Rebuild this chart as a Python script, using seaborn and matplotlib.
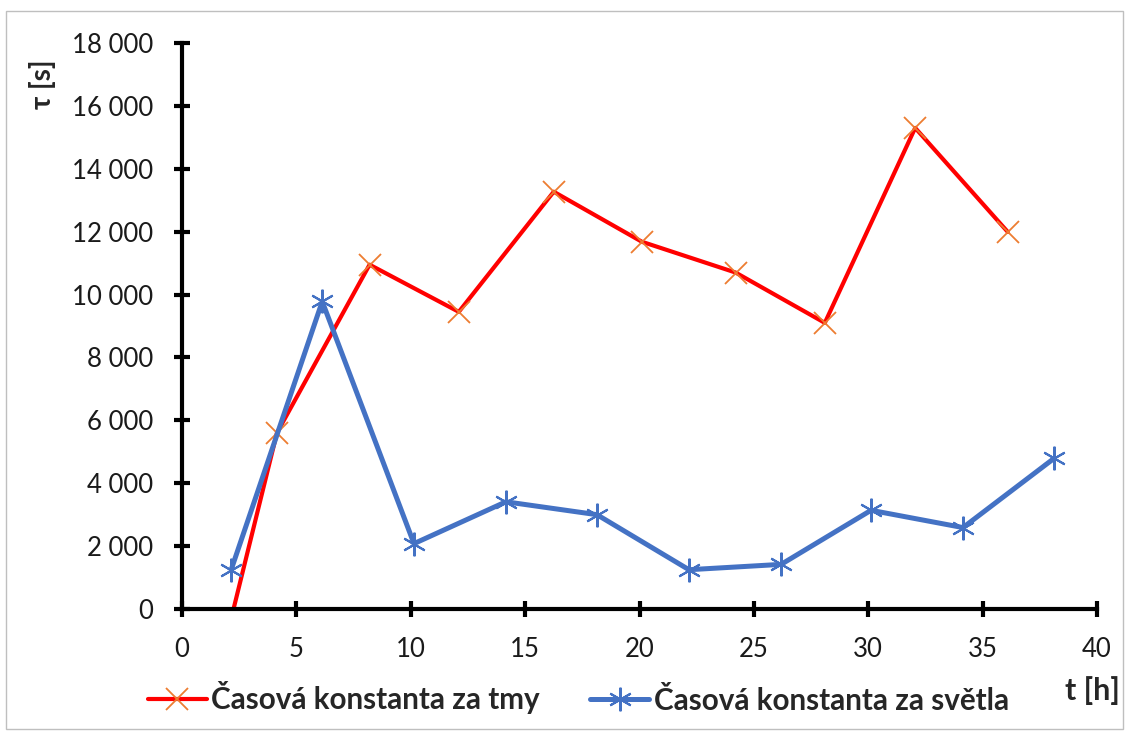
import pandas as pd
import matplotlib.pyplot as plt
import matplotlib.ticker as mticker
from matplotlib.patches import Rectangle
import seaborn as sns

# Data
t_dark = [2.1, 4.15, 8.2, 12.1, 16.25, 20.1, 24.2, 28.1, 32.05, 36.1]
tau_dark = [-450, 5600, 10950, 9450, 13270, 11680, 10700, 9100, 15300, 11990]

t_light = [2.15, 6.13, 10.14, 14.16, 18.14, 22.16, 26.19, 30.12, 34.14, 38.12]
tau_light = [1250, 9780, 2080, 3410, 3000, 1250, 1420, 3140, 2590, 4790]

label_dark = 'Časová konstanta za tmy'
label_light = 'Časová konstanta za světla'

df_dark = pd.DataFrame({'t': t_dark, 'tau': tau_dark})
df_light = pd.DataFrame({'t': t_light, 'tau': tau_light})

sns.set_style('white')
plt.rcParams['font.family'] = ['Lato', 'DejaVu Sans']

fig = plt.figure(figsize=(11.29, 7.35), dpi=100)
ax = fig.add_axes([0.1612, 0.1714, 0.8105, 0.7701])

sns.lineplot(data=df_dark, x='t', y='tau', ax=ax, color='#FF0000', linewidth=3,
             marker='x', markersize=16, markeredgewidth=1.3,
             markeredgecolor='#ED7D31', label=label_dark, sort=False)
sns.lineplot(data=df_light, x='t', y='tau', ax=ax, color='#4472C4', linewidth=3.6,
             marker=(6, 2, 0), markersize=17, markeredgewidth=1.5,
             markeredgecolor='#4472C4', label=label_light, sort=False)

ax.set_xlim(0, 40)
ax.set_ylim(0, 18000)
ax.set_xticks(range(0, 41, 5))
ax.set_yticks(range(0, 18001, 2000))
ax.yaxis.set_major_formatter(mticker.FuncFormatter(lambda v, p: f'{int(v):,}'.replace(',', ' ')))

for s in ['top', 'right']:
    ax.spines[s].set_visible(False)
for s in ['left', 'bottom']:
    ax.spines[s].set_linewidth(3)
    ax.spines[s].set_color('black')
    ax.spines[s].set_zorder(5)

ax.tick_params(axis='both', bottom=True, left=True, direction='inout', length=12,
               width=3, color='black', labelsize=18.5, labelcolor='#1a1a1a')
ax.tick_params(axis='y', pad=15)
ax.tick_params(axis='x', pad=14)

ax.set_xlabel('')
ax.set_ylabel('')
fig.text(42 / 1129, 1 - 84 / 735, 'τ [s]', rotation=90, ha='center', va='center',
         fontsize=20, fontweight='bold')
fig.text(1092 / 1129, 1 - 691 / 735, 't [h]', ha='center', va='center',
         fontsize=22, fontweight='bold')

leg = ax.legend(loc='center left', bbox_to_anchor=(121 / 1129, 1 - 698 / 735),
                bbox_transform=fig.transFigure, ncol=2, frameon=False,
                handlelength=2.0, handletextpad=0.15, columnspacing=1.7,
                prop={'size': 21.3, 'weight': 'bold'})

fig.add_artist(Rectangle((6 / 1129, 6 / 735), 1117 / 1129, 718 / 735,
                         transform=fig.transFigure, fill=False,
                         edgecolor='#BFBFBF', linewidth=1))

fig.savefig('out.png', dpi=100)
